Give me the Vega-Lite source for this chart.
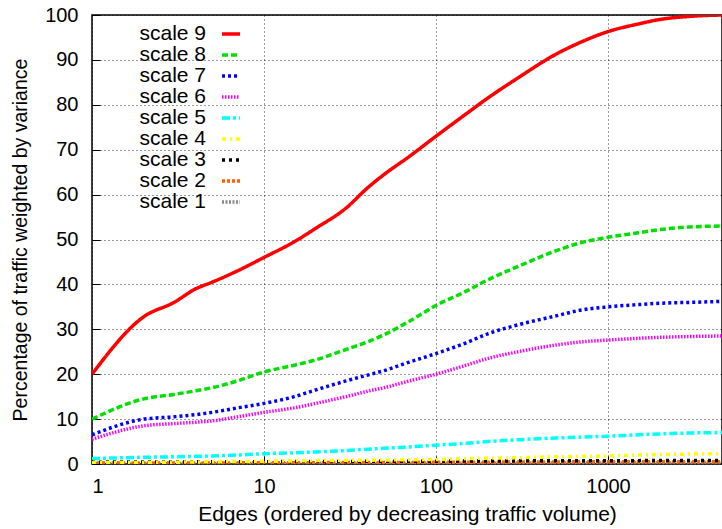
{
  "$schema": "https://vega.github.io/schema/vega-lite/v6.json",
  "width": 630,
  "height": 449,
  "autosize": "none",
  "padding": {"left": 92, "top": 15, "right": 0, "bottom": 65},
  "config": {
    "font": "Liberation Sans",
    "view": {"stroke": "black", "strokeWidth": 1.5},
    "axis": {
      "labelFont": "Liberation Sans",
      "titleFont": "Liberation Sans",
      "labelFontSize": 20,
      "labelColor": "black",
      "titleColor": "black",
      "titleFontWeight": "normal",
      "domain": false,
      "tickColor": "black",
      "tickSize": -8,
      "tickWidth": 1,
      "gridColor": "black",
      "gridDash": [1, 3],
      "gridOpacity": 0.8,
      "gridWidth": 1
    }
  },
  "data": {
    "values": [
      {"x": 1, "scale 9": 20, "scale 8": 10, "scale 7": 6.5, "scale 6": 5.5, "scale 5": 1.2, "scale 4": 0.3, "scale 3": 0.4, "scale 2": 0.2, "scale 1": 0.1},
      {"x": 2, "scale 9": 32.8, "scale 8": 14.5, "scale 7": 10, "scale 6": 8.5, "scale 5": 1.5, "scale 4": 0.35, "scale 3": 0.45, "scale 2": 0.2, "scale 1": 0.1},
      {"x": 3, "scale 9": 36, "scale 8": 15.5, "scale 7": 10.5, "scale 6": 9, "scale 5": 1.6, "scale 4": 0.4, "scale 3": 0.45, "scale 2": 0.22, "scale 1": 0.1},
      {"x": 4, "scale 9": 39, "scale 8": 16.3, "scale 7": 11, "scale 6": 9.3, "scale 5": 1.7, "scale 4": 0.45, "scale 3": 0.5, "scale 2": 0.22, "scale 1": 0.1},
      {"x": 5, "scale 9": 40.5, "scale 8": 17, "scale 7": 11.5, "scale 6": 9.6, "scale 5": 1.8, "scale 4": 0.5, "scale 3": 0.5, "scale 2": 0.25, "scale 1": 0.1},
      {"x": 7, "scale 9": 43, "scale 8": 18.5, "scale 7": 12.5, "scale 6": 10.5, "scale 5": 2.0, "scale 4": 0.55, "scale 3": 0.5, "scale 2": 0.25, "scale 1": 0.12},
      {"x": 10, "scale 9": 46, "scale 8": 20.5, "scale 7": 13.5, "scale 6": 11.5, "scale 5": 2.3, "scale 4": 0.6, "scale 3": 0.5, "scale 2": 0.3, "scale 1": 0.12},
      {"x": 15, "scale 9": 49.5, "scale 8": 22, "scale 7": 15, "scale 6": 12.5, "scale 5": 2.5, "scale 4": 0.7, "scale 3": 0.55, "scale 2": 0.3, "scale 1": 0.12},
      {"x": 20, "scale 9": 52.5, "scale 8": 23.2, "scale 7": 16.5, "scale 6": 13.5, "scale 5": 2.7, "scale 4": 0.75, "scale 3": 0.55, "scale 2": 0.3, "scale 1": 0.15},
      {"x": 30, "scale 9": 57, "scale 8": 25.5, "scale 7": 18.5, "scale 6": 15, "scale 5": 3.0, "scale 4": 0.8, "scale 3": 0.55, "scale 2": 0.35, "scale 1": 0.15},
      {"x": 40, "scale 9": 61.5, "scale 8": 27.2, "scale 7": 19.8, "scale 6": 16.2, "scale 5": 3.3, "scale 4": 0.85, "scale 3": 0.6, "scale 2": 0.35, "scale 1": 0.15},
      {"x": 50, "scale 9": 64.5, "scale 8": 28.8, "scale 7": 20.8, "scale 6": 17, "scale 5": 3.5, "scale 4": 0.9, "scale 3": 0.6, "scale 2": 0.35, "scale 1": 0.15},
      {"x": 70, "scale 9": 68.5, "scale 8": 31.8, "scale 7": 22.7, "scale 6": 18.5, "scale 5": 3.8, "scale 4": 0.95, "scale 3": 0.6, "scale 2": 0.35, "scale 1": 0.15},
      {"x": 100, "scale 9": 73, "scale 8": 35.3, "scale 7": 24.6, "scale 6": 20, "scale 5": 4.2, "scale 4": 1.0, "scale 3": 0.6, "scale 2": 0.4, "scale 1": 0.15},
      {"x": 150, "scale 9": 78, "scale 8": 38.5, "scale 7": 27, "scale 6": 22, "scale 5": 4.6, "scale 4": 1.2, "scale 3": 0.65, "scale 2": 0.4, "scale 1": 0.15},
      {"x": 200, "scale 9": 81.5, "scale 8": 41, "scale 7": 29, "scale 6": 23.5, "scale 5": 5.0, "scale 4": 1.3, "scale 3": 0.65, "scale 2": 0.4, "scale 1": 0.15},
      {"x": 300, "scale 9": 86, "scale 8": 44, "scale 7": 31, "scale 6": 25, "scale 5": 5.4, "scale 4": 1.4, "scale 3": 0.7, "scale 2": 0.45, "scale 1": 0.2},
      {"x": 500, "scale 9": 91.3, "scale 8": 47.5, "scale 7": 33, "scale 6": 26.5, "scale 5": 5.8, "scale 4": 1.6, "scale 3": 0.7, "scale 2": 0.45, "scale 1": 0.2},
      {"x": 700, "scale 9": 94, "scale 8": 49.3, "scale 7": 34.3, "scale 6": 27.2, "scale 5": 6.0, "scale 4": 1.7, "scale 3": 0.7, "scale 2": 0.5, "scale 1": 0.2},
      {"x": 1000, "scale 9": 96.3, "scale 8": 50.5, "scale 7": 35, "scale 6": 27.6, "scale 5": 6.2, "scale 4": 1.8, "scale 3": 0.75, "scale 2": 0.5, "scale 1": 0.2},
      {"x": 1500, "scale 9": 98, "scale 8": 51.5, "scale 7": 35.5, "scale 6": 28, "scale 5": 6.5, "scale 4": 2.0, "scale 3": 0.75, "scale 2": 0.5, "scale 1": 0.2},
      {"x": 2000, "scale 9": 99, "scale 8": 52.2, "scale 7": 35.8, "scale 6": 28.2, "scale 5": 6.7, "scale 4": 2.1, "scale 3": 0.8, "scale 2": 0.5, "scale 1": 0.2},
      {"x": 3000, "scale 9": 99.7, "scale 8": 52.8, "scale 7": 36, "scale 6": 28.4, "scale 5": 6.9, "scale 4": 2.2, "scale 3": 0.8, "scale 2": 0.5, "scale 1": 0.2},
      {"x": 4600, "scale 9": 100, "scale 8": 53, "scale 7": 36.2, "scale 6": 28.5, "scale 5": 7.0, "scale 4": 2.3, "scale 3": 0.8, "scale 2": 0.5, "scale 1": 0.2}
    ]
  },
  "transform": [
    {"fold": ["scale 1", "scale 2", "scale 3", "scale 4", "scale 5", "scale 6", "scale 7", "scale 8", "scale 9"], "as": ["series", "value"]}
  ],
  "mark": {"type": "line", "strokeWidth": 3.5, "clip": true, "interpolate": "monotone"},
  "encoding": {
    "x": {
      "field": "x", "type": "quantitative",
      "scale": {"type": "log", "domain": [1, 4600], "nice": false},
      "axis": {"values": [1, 10, 100, 1000], "format": "d", "title": "Edges (ordered by decreasing traffic volume)", "titleFontSize": 21, "labelPadding": 20, "titlePadding": 7}
    },
    "y": {
      "field": "value", "type": "quantitative",
      "scale": {"domain": [0, 100], "nice": false},
      "axis": {"values": [0, 10, 20, 30, 40, 50, 60, 70, 80, 90, 100], "title": "Percentage of traffic weighted by variance", "titleFontSize": 19.5, "labelPadding": 22, "titlePadding": 14}
    },
    "color": {
      "field": "series", "type": "nominal",
      "scale": {
        "domain": ["scale 9", "scale 8", "scale 7", "scale 6", "scale 5", "scale 4", "scale 3", "scale 2", "scale 1"],
        "range": ["#ff0000", "#00e000", "#0000ff", "#ff00ff", "#00ffff", "#ffff00", "#000000", "#ff6000", "#888888"]
      },
      "legend": {
        "title": null, "orient": "none", "legendX": 128, "legendY": 8,
        "symbolType": "stroke", "symbolSize": 324, "symbolStrokeWidth": 3.5,
        "labelAlign": "right", "labelOffset": -36, "labelFontSize": 21, "labelColor": "black",
        "labelFont": "Liberation Sans", "rowPadding": 0, "padding": 0, "labelLimit": 200
      }
    },
    "strokeDash": {
      "field": "series", "type": "nominal",
      "scale": {
        "domain": ["scale 9", "scale 8", "scale 7", "scale 6", "scale 5", "scale 4", "scale 3", "scale 2", "scale 1"],
        "range": [[1, 0], [6, 3], [3, 3], [1.5, 1.5], [8, 3, 3, 3], [4, 4, 2, 4], [3, 4], [3, 2], [2, 1.5]]
      },
      "legend": null
    },
    "order": {"field": "series", "type": "nominal"}
  }
}
